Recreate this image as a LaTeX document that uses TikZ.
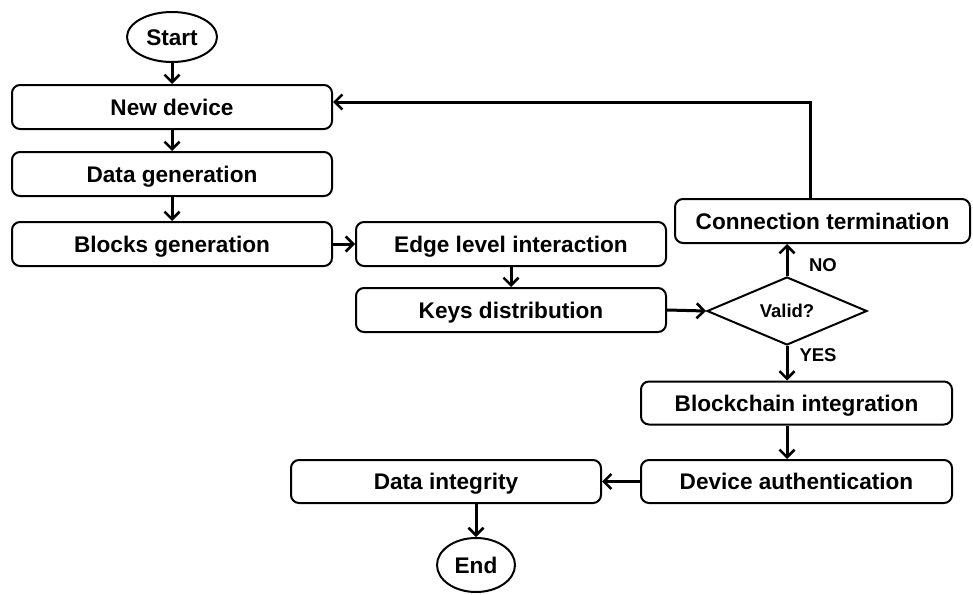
\documentclass[tikz,border=0pt]{standalone}
\usepackage{fontspec}
\setmainfont{Liberation Sans}
\usetikzlibrary{arrows.meta,shapes.geometric,calc}

\tikzset{
  procbox/.style={draw, line width=2pt, rounded corners=8pt, inner sep=0pt,
    font=\fontsize{22.6}{26}\selectfont\bfseries, text height=16.2pt, text depth=0pt},
  terminal/.style={draw, ellipse, line width=2pt, inner sep=0pt,
    font=\fontsize{22.6}{26}\selectfont\bfseries, text height=16.2pt, text depth=0pt},
  decision/.style={draw, diamond, line width=2pt, inner sep=0pt, aspect=2.35,
    font=\fontsize{18.5}{22}\selectfont\bfseries, text height=13.2pt, text depth=0pt},
  flow/.style={line width=3pt, -{Straight Barb[length=7.5pt,width=15pt,line width=2.6pt]}},
  branch/.style={font=\fontsize{18.5}{22}\selectfont\bfseries}
}

\begin{document}
\begin{tikzpicture}[x=1pt,y=-1pt]
  \useasboundingbox (0,0) rectangle (973,594);

  % terminals
  \node[terminal, minimum width=90pt, minimum height=50pt] (start) at (172,37) {Start};
  \node[terminal, minimum width=78pt, minimum height=54pt] (end) at (476,565) {End};

  % left column
  \node[procbox, minimum width=320pt, minimum height=44pt] (newdev) at (172,107) {New device};
  \node[procbox, minimum width=320pt, minimum height=44pt] (datagen) at (172,174) {Data generation};
  \node[procbox, minimum width=320pt, minimum height=44pt] (blockgen) at (172,244) {Blocks generation};

  % middle column
  \node[procbox, minimum width=310pt, minimum height=44pt] (edge) at (511,244) {Edge level interaction};
  \node[procbox, minimum width=310pt, minimum height=44pt] (keys) at (511,310) {Keys distribution};

  % decision and right column
  \node[decision, minimum width=160pt, minimum height=68pt] (valid) at (787,311) {Valid?};
  \node[procbox, minimum width=295pt, minimum height=44pt] (term) at (822.5,221) {Connection termination};
  \node[procbox, minimum width=311pt, minimum height=43pt] (chain) at (796.5,403) {Blockchain integration};
  \node[procbox, minimum width=311pt, minimum height=43pt] (auth) at (796.5,481.5) {Device authentication};

  % bottom left
  \node[procbox, minimum width=310pt, minimum height=43pt] (integ) at (446,481.5) {Data integrity};

  % connectors
  \draw[flow] (start) -- (newdev);
  \draw[flow] (newdev) -- (datagen);
  \draw[flow] (datagen) -- (blockgen);
  \draw[flow] (blockgen) -- (edge);
  \draw[flow] (edge) -- (keys);
  \draw[flow] (keys.east) -- (valid.west);
  \draw[flow] (valid.north) -- (valid.north |- term.south);
  \draw[flow] (valid.south) -- (valid.south |- chain.north);
  \coordinate (loop) at (810,102);
  \draw[flow] (loop |- term.north) -- (loop) -- (loop -| newdev.east);
  \draw[flow] (chain.south -| valid.south) -- (valid.south |- auth.north);
  \draw[flow] (auth) -- (integ);
  \draw[flow] (end.north |- integ.south) -- (end);

  % branch labels
  \node[branch] (no) at (823,265) {NO};
  \node[branch] (yes) at (818,355) {YES};
\end{tikzpicture}
\end{document}
